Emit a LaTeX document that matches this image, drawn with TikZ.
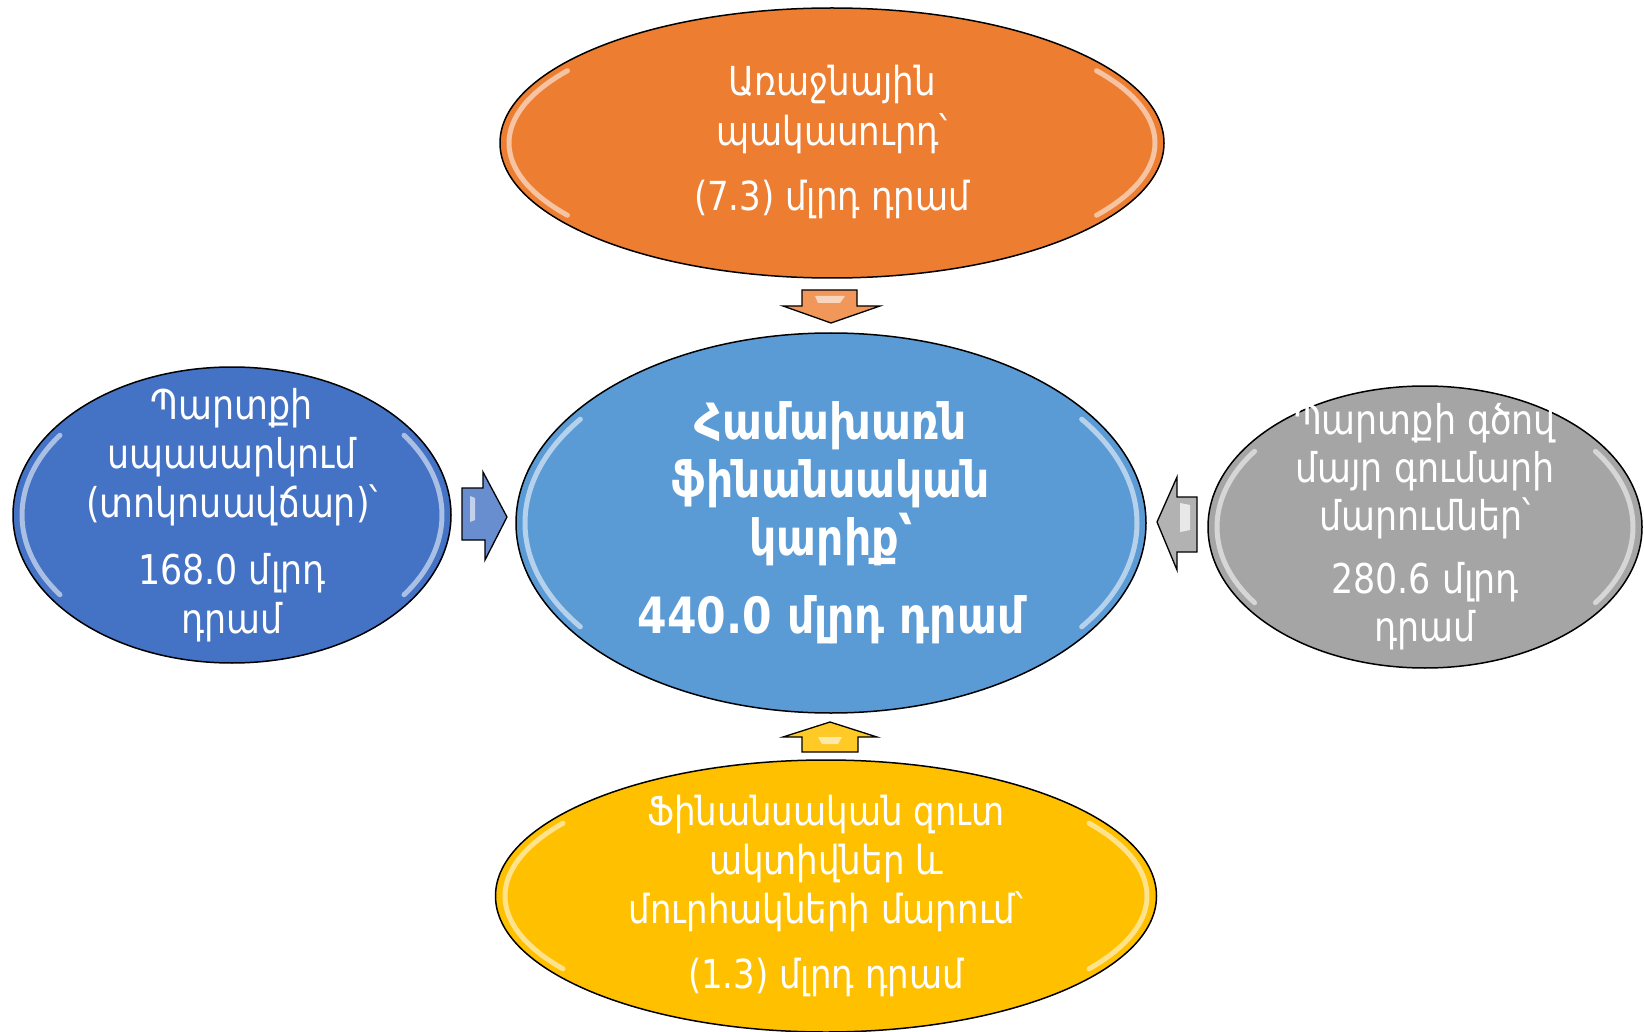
\documentclass[tikz,border=0pt]{standalone}
\usepackage{fontspec}
\setmainfont{DejaVu Sans}[FakeStretch=0.85]
\usetikzlibrary{shapes.geometric}
\definecolor{corange}{HTML}{ED7D31}
\definecolor{cblue}{HTML}{5B9BD5}
\definecolor{cdblue}{HTML}{4472C4}
\definecolor{cgrey}{HTML}{A5A5A5}
\definecolor{cyellow}{HTML}{FFC000}
\tikzset{
  blob/.style={ellipse, draw=black, line width=1.5pt, inner sep=0pt},
  txt/.style={text=white, align=center, inner sep=0pt},
  barrow/.style={draw=black, line width=1.3pt, line join=miter},
  gloss/.style={white, line width=5pt, opacity=0.55, line cap=round}
}
\newcommand{\glossarcs}[4]{%
  \draw[gloss] ({#1+(#3-9)*cos(145)},{#2+(#4-9)*sin(145)}) arc[start angle=145,end angle=215,x radius=#3-9,y radius=#4-9];
  \draw[gloss] ({#1+(#3-9)*cos(-35)},{#2+(#4-9)*sin(-35)}) arc[start angle=-35,end angle=35,x radius=#3-9,y radius=#4-9];
}
\begin{document}
\begin{tikzpicture}[x=1pt,y=-1pt]
\useasboundingbox (0,0) rectangle (1644,1032);
% ellipses
\node[blob, fill=corange, minimum width=664, minimum height=270] (top) at (832,143) {};
\node[blob, fill=cblue, minimum width=630, minimum height=380] (mid) at (831,523) {};
\node[blob, fill=cdblue, minimum width=438, minimum height=296] (left) at (232,515) {};
\node[blob, fill=cgrey, minimum width=434, minimum height=282] (right) at (1425,527) {};
\node[blob, fill=cyellow, minimum width=661, minimum height=272] (bot) at (826,896) {};
% gloss
\glossarcs{832}{143}{332}{135}
\glossarcs{831}{523}{315}{190}
\glossarcs{232}{515}{219}{148}
\glossarcs{1425}{527}{217}{141}
\glossarcs{826}{896}{330}{136}
% arrows
\draw[barrow, fill=corange!80!white] (802,290) -- (857,290) -- (857,306) -- (880,306) -- (831,323) -- (783,306) -- (802,306) -- cycle;
\fill[white, opacity=0.6] (815,296) -- (845,296) -- (840,303) -- (818,303) -- cycle;
\draw[barrow, fill=cyellow!85!white] (830,722) -- (877,737) -- (858,737) -- (858,752) -- (802,752) -- (802,737) -- (783,737) -- cycle;
\fill[white, opacity=0.6] (818,737) -- (842,737) -- (838,744) -- (822,744) -- cycle;
\draw[barrow, fill=cdblue!80!white] (462,488) -- (483,488) -- (483,472) -- (507,517) -- (485,560) -- (485,540) -- (462,540) -- cycle;
\fill[white, opacity=0.6] (470,496) -- (475,498) -- (475,520) -- (470,522) -- cycle;
\draw[barrow, fill=cgrey!85!white] (1157,522) -- (1177,477) -- (1177,497) -- (1197,497) -- (1197,552) -- (1177,552) -- (1177,570) -- cycle;
\fill[white, opacity=0.7] (1180,503) -- (1190,505) -- (1190,530) -- (1180,532) -- cycle;
% texts
\node[txt, font=\fontsize{40}{50}\selectfont] (toptext) at (832,142)
  {Առաջնային\\պակասուրդ՝\\[15pt](7.3) մլրդ դրամ};
\node[txt, font=\fontsize{50}{58}\selectfont\bfseries] (midtext) at (831,523)
  {Համախառն\\ֆինանսական\\կարիք՝\\[20pt]440.0 մլրդ դրամ};
\node[txt, font=\fontsize{41}{49}\selectfont] (lefttext) at (232,515)
  {Պարտքի\\սպասարկում\\(տոկոսավճար)՝\\[18pt]168.0 մլրդ\\դրամ};
\node[txt, font=\fontsize{41}{48}\selectfont] (righttext) at (1425,527)
  {Պարտքի գծով\\մայր գումարի\\մարումներ՝\\[15pt]280.6 մլրդ\\դրամ};
\node[txt, font=\fontsize{40}{49}\selectfont] (bottext) at (826,896)
  {Ֆինանսական զուտ\\ակտիվներ և\\մուրհակների մարում՝\\[16pt](1.3) մլրդ դրամ};
\end{tikzpicture}
\end{document}
